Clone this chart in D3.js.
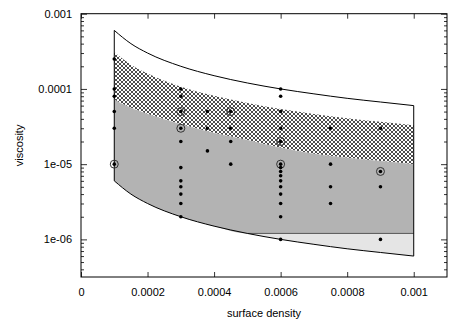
<!DOCTYPE html>
<html>
<head>
<meta charset="utf-8">
<script src="https://cdn.jsdelivr.net/npm/d3@7"></script>
<style>
  body { margin: 0; background: #fff; }
  svg { display: block; font-family: "Liberation Sans", Arial, sans-serif; }
</style>
</head>
<body>
<svg width="463" height="322"></svg>
<script>
// boundary curves
const curveX     = [0.0001, 0.00015, 0.0002, 0.0003, 0.0004, 0.0005, 0.0006, 0.0007, 0.0008, 0.0009, 0.001];
const upperEdge  = [6e-4, 4e-4, 3e-4, 2e-4, 1.5e-4, 1.2e-4, 1e-4, 8.6e-5, 7.5e-5, 6.7e-5, 6e-5];
const hatchTop   = [3.1e-4, 2.1e-4, 1.6e-4, 1.07e-4, 8.1e-5, 6.5e-5, 5.4e-5, 4.65e-5, 4.08e-5, 3.65e-5, 3.3e-5];
const grayTop    = [7.2e-5, 5.6e-5, 4.65e-5, 3.4e-5, 2.6e-5, 2.1e-5, 1.65e-5, 1.38e-5, 1.22e-5, 1.1e-5, 1e-5];
const lowerEdge  = [6e-6, 4e-6, 3e-6, 2e-6, 1.5e-6, 1.2e-6, 1e-6, 8.6e-7, 7.5e-7, 6.7e-7, 6e-7];
const floorValue = 1.2e-6;

// measured points
const ptX      = [0.0001, 0.0001, 0.0001, 0.0001, 0.0001, 0.0001,
                  0.0003, 0.0003, 0.0003, 0.0003, 0.0003, 0.0003, 0.0003, 0.0003, 0.0003, 0.0003, 0.0003,
                  0.00038, 0.00038, 0.00038,
                  0.00045, 0.00045, 0.00045, 0.00045,
                  0.0006, 0.0006, 0.0006, 0.0006, 0.0006, 0.0006, 0.0006, 0.0006, 0.0006, 0.0006, 0.0006, 0.0006, 0.0006, 0.0006, 0.0006,
                  0.00075, 0.00075, 0.00075, 0.00075,
                  0.0009, 0.0009, 0.0009, 0.0009];
const ptY      = [2.5e-4, 1e-4, 8e-5, 5e-5, 3e-5, 1e-5,
                  1e-4, 8e-5, 5e-5, 3e-5, 2e-5, 9e-6, 6e-6, 5e-6, 4e-6, 3e-6, 2e-6,
                  5e-5, 3e-5, 1.5e-5,
                  5e-5, 3e-5, 2e-5, 1e-5,
                  1e-4, 8e-5, 5e-5, 3e-5, 2e-5, 1e-5, 9e-6, 8e-6, 7e-6, 6e-6, 5e-6, 4e-6, 3e-6, 2e-6, 1e-6,
                  3e-5, 1e-5, 5e-6, 3e-6,
                  3e-5, 8e-6, 5e-6, 1e-6];
const ptCircle = [0, 0, 0, 0, 0, 1,
                  0, 0, 1, 1, 0, 0, 0, 0, 0, 0, 0,
                  0, 0, 0,
                  1, 0, 0, 0,
                  0, 0, 0, 0, 1, 1, 0, 0, 0, 0, 0, 0, 0, 0, 0,
                  0, 0, 0, 0,
                  0, 1, 0, 0];

const xTicks = [0, 0.0002, 0.0004, 0.0006, 0.0008, 0.001];
const xTickLabels = ["0", "0.0002", "0.0004", "0.0006", "0.0008", "0.001"];
const yTicks = [1e-3, 1e-4, 1e-5, 1e-6];
const yTickLabels = ["0.001", "0.0001", "1e-05", "1e-06"];

const width = 463, height = 322;
const margin = { top: 13.7, right: 16, bottom: 45, left: 81 };

const svg = d3.select("svg");

const x = d3.scaleLinear()
    .domain([0, 0.0011])
    .range([margin.left, width - margin.right]);

const y = d3.scaleLog()
    .domain([Math.pow(10, -6.5), 1e-3])
    .range([height - margin.bottom, margin.top]);

// hatch pattern
const defs = svg.append("defs");
const pat = defs.append("pattern")
    .attr("id", "hatch")
    .attr("patternUnits", "userSpaceOnUse")
    .attr("width", 4).attr("height", 4);
pat.append("rect").attr("width", 4).attr("height", 4).attr("fill", "#fff");
pat.append("path")
    .attr("d", "M0,0L4,4M-1,3L1,5M3,-1L5,1M0,4L4,0M-1,1L1,-1M3,5L5,3")
    .attr("stroke", "#000")
    .attr("stroke-width", 0.7);

const rows = curveX.map((cx, i) => ({
    x: cx, up: upperEdge[i], hatch: hatchTop[i], gray: grayTop[i], low: lowerEdge[i]
}));

const band = (top, bottom) => d3.area()
    .x(d => x(d.x))
    .y0(d => y(bottom(d)))
    .y1(d => y(top(d)))
    .curve(d3.curveMonotoneX);

// regions
svg.append("path").datum(rows)
    .attr("d", band(d => d.up, d => d.hatch))
    .attr("fill", "#fff");

svg.append("path").datum(rows)
    .attr("d", band(d => d.hatch, d => d.gray))
    .attr("fill", "url(#hatch)");

svg.append("path").datum(rows)
    .attr("d", band(d => d.gray, d => Math.max(d.low, floorValue)))
    .attr("fill", "#b3b3b3");

const lowRows = rows.filter(d => d.low <= floorValue);
svg.append("path").datum(lowRows)
    .attr("d", band(() => floorValue, d => d.low))
    .attr("fill", "#e5e5e5");

svg.append("line")
    .attr("x1", x(lowRows[0].x)).attr("x2", x(lowRows[lowRows.length - 1].x))
    .attr("y1", y(floorValue)).attr("y2", y(floorValue))
    .attr("stroke", "#333").attr("stroke-width", 0.8);

// outline
const edge = key => d3.line()
    .x(d => x(d.x))
    .y(d => y(d[key]))
    .curve(d3.curveMonotoneX);

svg.append("path").datum(rows)
    .attr("d", edge("up"))
    .attr("fill", "none").attr("stroke", "#000").attr("stroke-width", 1);
svg.append("path").datum(rows)
    .attr("d", edge("low"))
    .attr("fill", "none").attr("stroke", "#000").attr("stroke-width", 1);

[rows[0], rows[rows.length - 1]].forEach(d => {
    svg.append("line")
        .attr("x1", x(d.x)).attr("x2", x(d.x))
        .attr("y1", y(d.low)).attr("y2", y(d.up))
        .attr("stroke", "#000").attr("stroke-width", 1);
});

// points
const pts = ptX.map((px, i) => ({ x: px, y: ptY[i], c: ptCircle[i] }));

svg.selectAll(".ring")
    .data(pts.filter(d => d.c))
    .enter().append("circle")
    .attr("class", "ring")
    .attr("cx", d => x(d.x)).attr("cy", d => y(d.y))
    .attr("r", 4)
    .attr("fill", "none")
    .attr("stroke", "#333")
    .attr("stroke-width", 1);

svg.selectAll(".dot")
    .data(pts)
    .enter().append("circle")
    .attr("class", "dot")
    .attr("cx", d => x(d.x)).attr("cy", d => y(d.y))
    .attr("r", 1.8)
    .attr("fill", "#000");

// axes
const x0 = margin.left, x1 = width - margin.right;
const y0 = height - margin.bottom, y1 = margin.top;
const minorY = y.ticks().filter(v => Math.abs(Math.log10(v) - Math.round(Math.log10(v))) > 1e-6);

function styleAxis(g) {
    g.select(".domain").remove();
    g.selectAll(".tick line").attr("stroke", "#333");
    g.selectAll("text").attr("font-size", 11).attr("fill", "#000")
        .attr("font-family", "Liberation Sans, Arial, sans-serif");
}

svg.append("g")
    .attr("transform", `translate(0,${y0})`)
    .call(d3.axisBottom(x).tickValues(xTicks).tickSize(-5).tickPadding(11)
        .tickFormat((d, i) => xTickLabels[i]))
    .call(styleAxis);

svg.append("g")
    .attr("transform", `translate(0,${y1})`)
    .call(d3.axisTop(x).tickValues(xTicks).tickSize(-5).tickFormat(""))
    .call(styleAxis);

svg.append("g")
    .attr("transform", `translate(${x0},0)`)
    .call(d3.axisLeft(y).tickValues(yTicks).tickSize(-6).tickPadding(9)
        .tickFormat((d, i) => yTickLabels[i]))
    .call(styleAxis);

svg.append("g")
    .attr("transform", `translate(${x0},0)`)
    .call(d3.axisLeft(y).tickValues(minorY).tickSize(-3).tickFormat(""))
    .call(styleAxis);

svg.append("g")
    .attr("transform", `translate(${x1},0)`)
    .call(d3.axisRight(y).tickValues(yTicks).tickSize(-6).tickFormat(""))
    .call(styleAxis);

svg.append("g")
    .attr("transform", `translate(${x1},0)`)
    .call(d3.axisRight(y).tickValues(minorY).tickSize(-3).tickFormat(""))
    .call(styleAxis);

// frame
svg.append("rect")
    .attr("x", x0).attr("y", y1)
    .attr("width", x1 - x0).attr("height", y0 - y1)
    .attr("fill", "none").attr("stroke", "#000").attr("stroke-width", 1);

// titles
svg.append("text")
    .attr("x", (x0 + x1) / 2).attr("y", 317)
    .attr("text-anchor", "middle").attr("font-size", 11)
    .text("surface density");

svg.append("text")
    .attr("transform", `translate(23,${(y0 + y1) / 2}) rotate(-90)`)
    .attr("text-anchor", "middle").attr("font-size", 11)
    .text("viscosity");
</script>
</body>
</html>
